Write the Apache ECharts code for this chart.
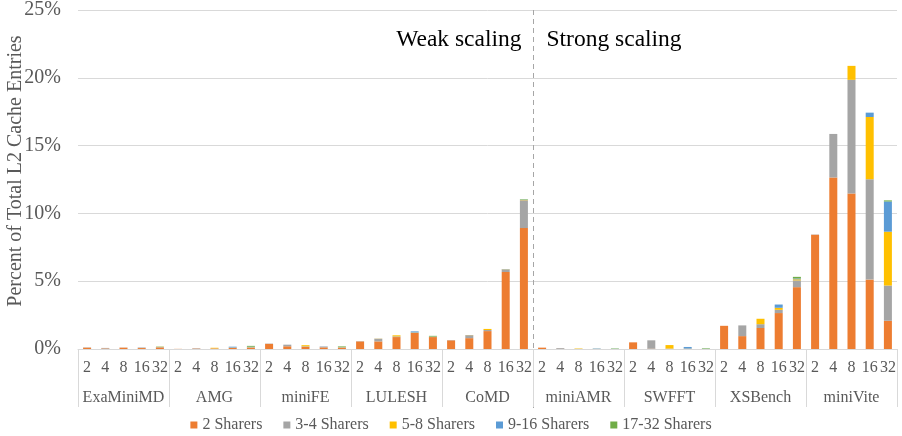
<!DOCTYPE html>
<html>
<head>
<meta charset="utf-8">
<script src="https://cdn.jsdelivr.net/npm/echarts@6/dist/echarts.min.js"></script>
<style>
  html, body { margin: 0; padding: 0; background: #fff; }
  #chart { width: 902px; height: 436px; }
</style>
</head>
<body>
<div id="chart"></div>
<script>
// Benchmarks and thread counts (each benchmark has one bar per thread count)
const apps = ['ExaMiniMD', 'AMG', 'miniFE', 'LULESH', 'CoMD', 'miniAMR', 'SWFFT', 'XSBench', 'miniVite'];
const threads = ['2', '4', '8', '16', '32'];
const seriesNames = ['2 Sharers', '3-4 Sharers', '5-8 Sharers', '9-16 Sharers', '17-32 Sharers'];
const seriesColors = ['#ED7D31', '#A5A5A5', '#FFC000', '#5B9BD5', '#70AD47'];
const yTicks = [0, 5, 10, 15, 20, 25];
const yTitle = 'Percent of Total L2 Cache Entries';

// Percent of total L2 entries, one array per sharer bucket, ordered app by app, thread count by thread count
const sharers2 = [
  0.10, 0.04, 0.10, 0.07, 0.12,
  0.01, 0.03, 0.04, 0.08, 0.10,
  0.38, 0.20, 0.16, 0.12, 0.10,
  0.56, 0.56, 0.88, 1.18, 0.88,
  0.64, 0.80, 1.32, 5.68, 8.92,
  0.10, 0.01, 0.00, 0.00, 0.00,
  0.49, 0.02, 0.01, 0.01, 0.00,
  1.71, 0.95, 1.55, 2.65, 4.56,
  8.43, 12.65, 11.47, 5.12, 2.08
];
const sharers3to4 = [
  0.02, 0.04, 0.01, 0.04, 0.03,
  0.00, 0.03, 0.01, 0.02, 0.04,
  0.02, 0.12, 0.04, 0.06, 0.02,
  0.02, 0.20, 0.05, 0.02, 0.02,
  0.02, 0.22, 0.08, 0.18, 2.05,
  0.00, 0.06, 0.01, 0.00, 0.00,
  0.00, 0.62, 0.02, 0.01, 0.00,
  0.00, 0.79, 0.28, 0.24, 0.50,
  0.02, 3.21, 8.38, 7.40, 2.60
];
const sharers5to8 = [
  0.00, 0.00, 0.00, 0.00, 0.01,
  0.00, 0.00, 0.04, 0.01, 0.01,
  0.00, 0.00, 0.08, 0.00, 0.01,
  0.00, 0.01, 0.08, 0.02, 0.01,
  0.00, 0.01, 0.08, 0.02, 0.02,
  0.00, 0.00, 0.03, 0.01, 0.00,
  0.00, 0.00, 0.26, 0.01, 0.00,
  0.00, 0.00, 0.40, 0.15, 0.08,
  0.00, 0.00, 1.03, 4.59, 3.97
];
const sharers9to16 = [
  0.00, 0.00, 0.00, 0.00, 0.00,
  0.00, 0.00, 0.00, 0.06, 0.02,
  0.00, 0.00, 0.00, 0.01, 0.01,
  0.00, 0.00, 0.00, 0.08, 0.01,
  0.00, 0.00, 0.00, 0.02, 0.01,
  0.00, 0.00, 0.00, 0.03, 0.01,
  0.00, 0.00, 0.00, 0.12, 0.01,
  0.00, 0.00, 0.00, 0.24, 0.06,
  0.00, 0.00, 0.00, 0.32, 2.23
];
const sharers17to32 = [
  0.00, 0.00, 0.00, 0.00, 0.02,
  0.00, 0.00, 0.00, 0.00, 0.06,
  0.00, 0.00, 0.00, 0.00, 0.05,
  0.00, 0.00, 0.00, 0.00, 0.05,
  0.00, 0.00, 0.00, 0.00, 0.04,
  0.00, 0.00, 0.00, 0.00, 0.03,
  0.00, 0.00, 0.00, 0.00, 0.04,
  0.00, 0.00, 0.00, 0.00, 0.12,
  0.00, 0.00, 0.00, 0.00, 0.08
];
const seriesData = [sharers2, sharers3to4, sharers5to8, sharers9to16, sharers17to32];

const FONT = 'Liberation Serif';
const TEXT = '#595959';
const LINE = '#D9D9D9';

// One category per (benchmark, thread count) pair
const categories = [];
apps.forEach(function (a) { threads.forEach(function (t) { categories.push(t); }); });

const chart = echarts.init(document.getElementById('chart'), null, { renderer: 'canvas' });

chart.setOption({
  animation: false,
  backgroundColor: '#fff',
  textStyle: { fontFamily: FONT, color: TEXT },
  grid: { left: 78, right: 5, top: 10, bottom: 87, containLabel: false, outerBoundsMode: 'none' },
  legend: {
    top: 412,
    left: 'center',
    icon: 'rect',
    itemWidth: 7,
    itemHeight: 7,
    itemGap: 21,
    textStyle: { fontFamily: FONT, fontSize: 16, color: TEXT },
    data: seriesNames
  },
  xAxis: [
    {
      type: 'category',
      data: categories,
      axisLine: { lineStyle: { color: LINE, width: 1 } },
      axisTick: { show: false },
      axisLabel: { interval: 0, margin: 11, fontFamily: FONT, fontSize: 16, color: TEXT }
    },
    {
      type: 'category',
      position: 'bottom',
      data: apps,
      axisLine: { show: false },
      axisTick: { show: true, length: 58, interval: 0, lineStyle: { color: LINE, width: 1 } },
      axisLabel: { interval: 0, margin: 41, fontFamily: FONT, fontSize: 16, color: TEXT }
    }
  ],
  yAxis: {
    type: 'value',
    min: yTicks[0],
    max: yTicks[yTicks.length - 1],
    interval: yTicks[1] - yTicks[0],
    axisLine: { show: false },
    axisTick: { show: false },
    axisLabel: { formatter: '{value}%', margin: 17, fontFamily: FONT, fontSize: 20, color: TEXT },
    splitLine: { lineStyle: { color: LINE, width: 1 } }
  },
  series: seriesNames.map(function (name, i) {
    return {
      name: name,
      type: 'bar',
      stack: 'total',
      xAxisIndex: 0,
      barCategoryGap: '56%',
      itemStyle: { color: seriesColors[i] },
      data: seriesData[i]
    };
  })
});

// Dashed divider between the weak- and strong-scaling benchmarks, with captions
const splitIdx = apps.indexOf('miniAMR') * threads.length;
const xa = chart.convertToPixel({ xAxisIndex: 0 }, splitIdx - 1);
const xb = chart.convertToPixel({ xAxisIndex: 0 }, splitIdx);
const xDiv = Math.round((xa + xb) / 2) + 0.5;
const yTop = chart.convertToPixel({ yAxisIndex: 0 }, yTicks[yTicks.length - 1]);

chart.setOption({
  graphic: [
    {
      type: 'line',
      shape: { x1: xDiv, y1: yTop, x2: xDiv, y2: 408 },
      style: { stroke: '#A6A6A6', lineWidth: 1, lineDash: [5, 4] },
      silent: true
    },
    {
      type: 'text',
      x: xDiv - 12, y: 40,
      style: { text: 'Weak scaling', fill: '#000', font: '23.5px "Liberation Serif"', textAlign: 'right', textVerticalAlign: 'middle' }
    },
    {
      type: 'text',
      x: xDiv + 13, y: 40,
      style: { text: 'Strong scaling', fill: '#000', font: '23.5px "Liberation Serif"', textAlign: 'left', textVerticalAlign: 'middle' }
    },
    // vertical y-axis title
    {
      type: 'text',
      x: 16, y: 171,
      rotation: Math.PI / 2,
      style: { text: yTitle, fill: TEXT, font: '20px "Liberation Serif"', textAlign: 'center', textVerticalAlign: 'middle' }
    }
  ]
});
</script>
</body>
</html>
